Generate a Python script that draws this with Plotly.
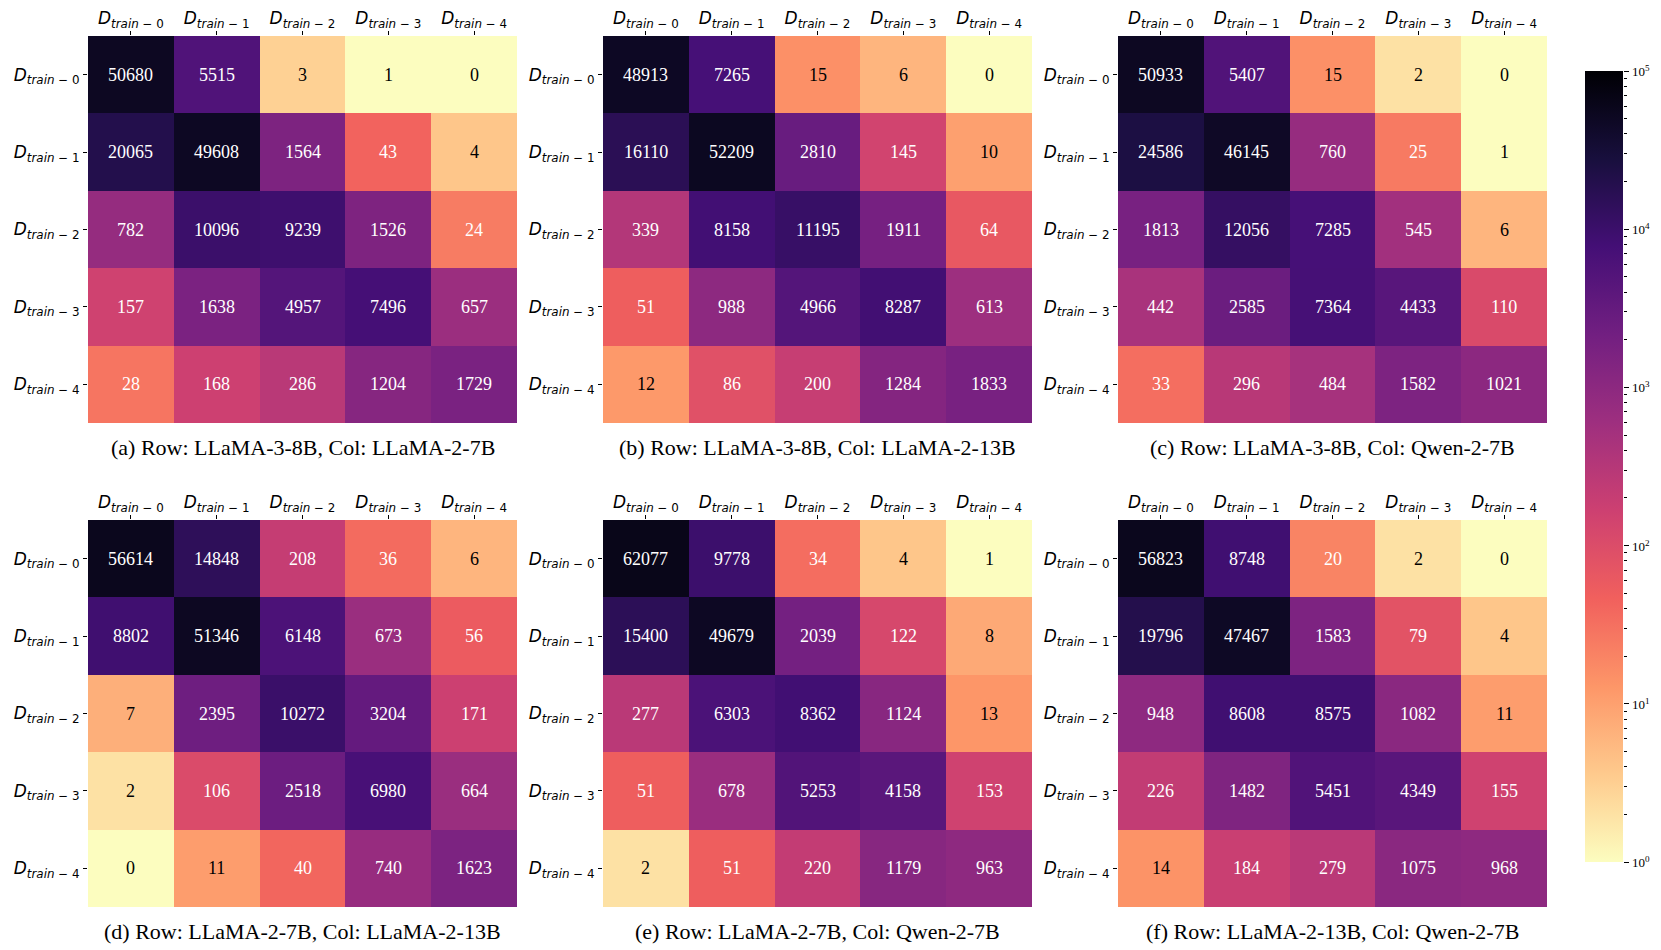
import plotly.graph_objects as go
import plotly.colors as pc
import numpy as np

# ---- data ----
labels = ["D-0", "D-1", "D-2", "D-3", "D-4"]
tick_text = ["<i>D</i><sub><i>train</i> − %d</sub>" % i for i in range(5)]

mat_a = [[50680, 5515, 3, 1, 0],
         [20065, 49608, 1564, 43, 4],
         [782, 10096, 9239, 1526, 24],
         [157, 1638, 4957, 7496, 657],
         [28, 168, 286, 1204, 1729]]
mat_b = [[48913, 7265, 15, 6, 0],
         [16110, 52209, 2810, 145, 10],
         [339, 8158, 11195, 1911, 64],
         [51, 988, 4966, 8287, 613],
         [12, 86, 200, 1284, 1833]]
mat_c = [[50933, 5407, 15, 2, 0],
         [24586, 46145, 760, 25, 1],
         [1813, 12056, 7285, 545, 6],
         [442, 2585, 7364, 4433, 110],
         [33, 296, 484, 1582, 1021]]
mat_d = [[56614, 14848, 208, 36, 6],
         [8802, 51346, 6148, 673, 56],
         [7, 2395, 10272, 3204, 171],
         [2, 106, 2518, 6980, 664],
         [0, 11, 40, 740, 1623]]
mat_e = [[62077, 9778, 34, 4, 1],
         [15400, 49679, 2039, 122, 8],
         [277, 6303, 8362, 1124, 13],
         [51, 678, 5253, 4158, 153],
         [2, 51, 220, 1179, 963]]
mat_f = [[56823, 8748, 20, 2, 0],
         [19796, 47467, 1583, 79, 4],
         [948, 8608, 8575, 1082, 11],
         [226, 1482, 5451, 4349, 155],
         [14, 184, 279, 1075, 968]]

matrices = [mat_a, mat_b, mat_c, mat_d, mat_e, mat_f]
captions = ["(a) Row: LLaMA-3-8B, Col: LLaMA-2-7B",
            "(b) Row: LLaMA-3-8B, Col: LLaMA-2-13B",
            "(c) Row: LLaMA-3-8B, Col: Qwen-2-7B",
            "(d) Row: LLaMA-2-7B, Col: LLaMA-2-13B",
            "(e) Row: LLaMA-2-7B, Col: Qwen-2-7B",
            "(f) Row: LLaMA-2-13B, Col: Qwen-2-7B"]
cbar_exponents = [0, 1, 2, 3, 4, 5]

# ---- layout geometry (page pixels; page body has an 8px margin) ----
W, H = 1661, 950
OFF = 8
lefts = [88 - OFF, 603 - OFF, 1118 - OFF]
pw = 429
tops = [36 - OFF, 520 - OFF]
ph = 387
cb_left, cb_right = 1585 - OFF, 1623 - OFF
cb_top, cb_bot = 71 - OFF, 862 - OFF

magma_r = pc.sequential.Magma[::-1]
cscale = [[i / (len(magma_r) - 1), c] for i, c in enumerate(magma_r)]

def lum(rgbstr):
    r, g, b = [float(v) / 255 for v in rgbstr.replace("rgb(", "").replace(")", "").split(",")[:3]]
    def lin(c):
        return c / 12.92 if c <= 0.03928 else ((c + 0.055) / 1.055) ** 2.4
    return 0.2126 * lin(r) + 0.7152 * lin(g) + 0.0722 * lin(b)

fig = go.Figure()
annotations = []
serif = "Liberation Serif, Times New Roman, serif"
sans = "DejaVu Sans, sans-serif"

for k, mat in enumerate(matrices):
    r, c = divmod(k, 3)
    idx = k + 1
    xa = "x" if idx == 1 else "x%d" % idx
    ya = "y" if idx == 1 else "y%d" % idx
    arr = np.array(mat, dtype=float)
    z = np.log10(np.clip(arr, 1, None))
    fig.add_trace(go.Heatmap(z=z, x=labels, y=labels, coloraxis="coloraxis",
                             xaxis=xa, yaxis=ya, hoverinfo="skip"))
    x0 = lefts[c] / W
    x1 = (lefts[c] + pw) / W
    y1 = 1 - tops[r] / H
    y0 = 1 - (tops[r] + ph) / H
    axcommon = dict(ticks="outside", ticklen=4, tickcolor="black", tickwidth=1,
                    showgrid=False, zeroline=False, showline=False, automargin=False,
                    tickmode="array", tickvals=labels, ticktext=tick_text,
                    tickfont=dict(family=sans, size=17, color="black"))
    fig.layout["xaxis" if idx == 1 else "xaxis%d" % idx] = dict(
        domain=[x0, x1], anchor=ya, side="top", **axcommon)
    fig.layout["yaxis" if idx == 1 else "yaxis%d" % idx] = dict(
        domain=[y0, y1], anchor=xa, autorange="reversed", **axcommon)
    for i in range(5):
        for j in range(5):
            v = mat[i][j]
            t = min(max(z[i][j] / 5.0, 0), 1)
            col = pc.sample_colorscale(cscale, [t])[0]
            tc = "white" if lum(col) < 0.408 else "black"
            annotations.append(dict(x=labels[j], y=labels[i], xref=xa, yref=ya,
                                    text=str(v), showarrow=False,
                                    font=dict(family=serif, size=18, color=tc)))
    annotations.append(dict(x=(lefts[c] + pw / 2) / W, y=1 - (tops[r] + ph + 24) / H,
                            xref="paper", yref="paper", text=captions[k],
                            showarrow=False, xanchor="center", yanchor="middle",
                            font=dict(family=serif, size=22, color="black")))

# colorbar ticks via overlay axes (major + minor), labels as annotations
fig.add_trace(go.Scatter(x=[0], y=[1], xaxis="x7", yaxis="y7", mode="markers",
                         marker=dict(opacity=0), hoverinfo="skip", showlegend=False))
fig.add_trace(go.Scatter(x=[0], y=[1], xaxis="x7", yaxis="y8", mode="markers",
                         marker=dict(opacity=0), hoverinfo="skip", showlegend=False))
major = [10 ** p for p in cbar_exponents]
minor = [m * 10 ** p for p in cbar_exponents[:-1] for m in range(2, 10)]
fig.layout["xaxis7"] = dict(domain=[cb_left / W, cb_right / W], anchor="y7",
                            visible=False, range=[-1, 1], automargin=False)
fig.layout["yaxis7"] = dict(domain=[1 - cb_bot / H, 1 - cb_top / H], anchor="x7",
                            side="right", type="log", range=[0, 5], automargin=False,
                            ticks="outside", ticklen=5, tickcolor="black", tickwidth=1,
                            tickmode="array", tickvals=major, showticklabels=False,
                            showgrid=False, zeroline=False, showline=False)
fig.layout["yaxis8"] = dict(overlaying="y7", anchor="x7",
                            side="right", type="log", range=[0, 5], automargin=False,
                            ticks="outside", ticklen=3, tickcolor="black", tickwidth=1,
                            tickmode="array", tickvals=minor, showticklabels=False,
                            showgrid=False, zeroline=False, showline=False)
for p in cbar_exponents:
    annotations.append(dict(x=(cb_right + 7) / W, y=p, xref="paper", yref="y7",
                            text="10<sup>%d</sup>" % p, showarrow=False,
                            xanchor="left", yanchor="middle",
                            font=dict(family=serif, size=13, color="black")))

fig.update_layout(
    width=W, height=H, margin=dict(l=0, r=0, t=0, b=0, autoexpand=False),
    paper_bgcolor="white", plot_bgcolor="white", showlegend=False,
    coloraxis=dict(colorscale=cscale, cmin=0, cmax=5,
                   colorbar=dict(x=cb_left / W, xanchor="left", xpad=0, ypad=0,
                                 y=1 - cb_top / H, yanchor="top",
                                 len=(cb_bot - cb_top) / H, lenmode="fraction",
                                 thickness=cb_right - cb_left, thicknessmode="pixels",
                                 outlinewidth=0, showticklabels=False, ticks="")),
    annotations=annotations,
)

fig.write_html("out.html")
